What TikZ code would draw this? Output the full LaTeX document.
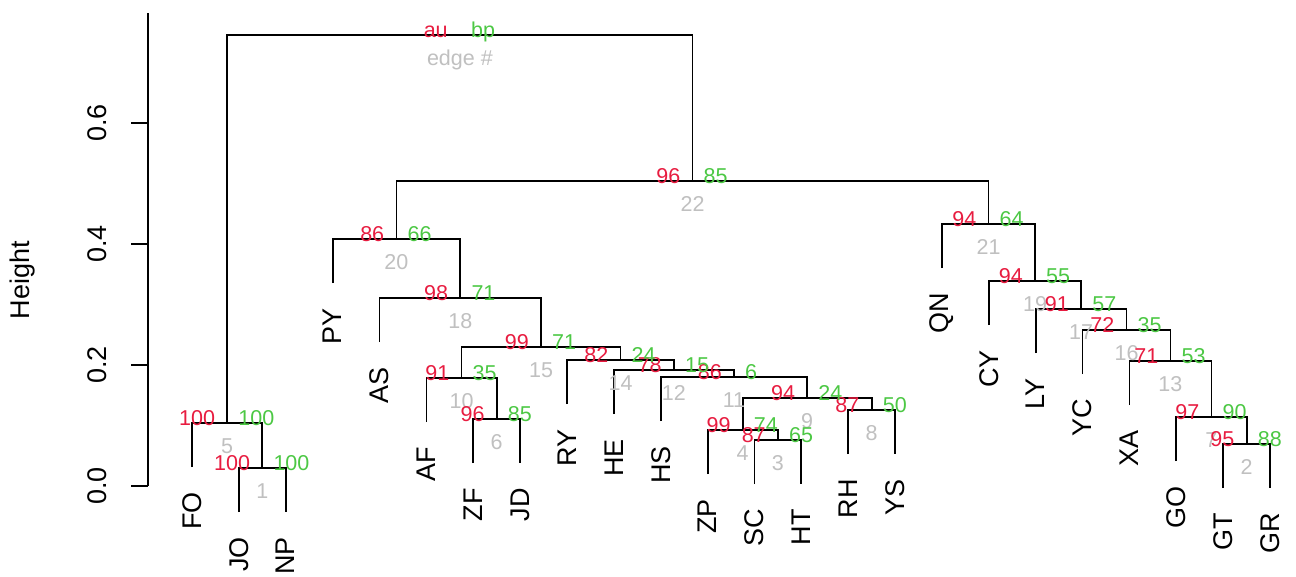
\documentclass[tikz,border=0pt]{standalone}
\usepackage{fontspec}
\setmainfont{Liberation Sans}
\usetikzlibrary{calc}
\definecolor{aured}{RGB}{232,28,64}
\definecolor{bpgreen}{RGB}{76,200,68}
\definecolor{edgegray}{RGB}{192,192,192}
\tikzset{
  tree/.style={line width=1.8pt, black},
  leaflab/.style={rotate=90, anchor=east, inner sep=0pt, font=\fontsize{27}{27}\selectfont, text=black},
  ticklab/.style={rotate=90, anchor=center, inner sep=0pt, font=\fontsize{27}{27}\selectfont, text=black},
  aulab/.style={anchor=base east, inner sep=0pt, text=aured, font=\fontsize{21.5}{21.5}\selectfont},
  bplab/.style={anchor=base west, inner sep=0pt, text=bpgreen, font=\fontsize{21.5}{21.5}\selectfont},
  edlab/.style={anchor=base, inner sep=0pt, text=edgegray, font=\fontsize{21.5}{21.5}\selectfont},
}
\begin{document}
\begin{tikzpicture}[x=1pt,y=-1pt]
\useasboundingbox (0,0) rectangle (1296,576);
\fill[white] (0,0) rectangle (1296,576);
% leaves (lower ends of leaf lines)
\foreach \n/\x/\y in {FO/192.0/467, JO/238.9/512, NP/285.7/512, PY/332.6/283,
  AS/379.5/342, AF/426.4/422, ZF/473.2/463, JD/520.1/463, RY/567.0/404,
  HE/613.8/414, HS/660.7/421, ZP/707.6/474, SC/754.4/484, HT/801.3/484,
  RH/848.2/454, YS/895.1/454, QN/941.9/268, CY/988.8/325, LY/1035.7/353,
  YC/1082.5/374, XA/1129.4/405, GO/1176.3/461, GT/1223.1/488, GR/1270.0/488}
  {\coordinate (\n) at (\x,\y);}
% internal nodes
\foreach \n/\x/\y in {e1/262.3/468, e5/227.2/423, e2/1246.6/444, e7/1211.4/417,
  e13/1170.4/361, e16/1126.5/330, e17/1081.1/309, e19/1035.0/281, e21/988.5/224,
  e3/777.9/440, e4/742.7/430, e8/871.6/410, e9/807.2/398, e11/734.0/377,
  e12/673.9/370, e14/620.5/360, e6/496.7/419, e10/461.5/378, e15/541.0/347,
  e18/460.3/298, e20/396.4/239, e22/692.5/181, root/459.9/35}
  {\coordinate (\n) at (\x,\y);}
% axis
\coordinate (axtop) at (148,13);
\coordinate (ax0) at (148,486);
\draw[tree] (axtop) -- (ax0);
\foreach \i/\v/\y in {0/0.0/486, 1/0.2/365, 2/0.4/244, 3/0.6/123}{
  \coordinate (tk\i) at (148,\y);
  \coordinate (tl\i) at (131,\y);
  \draw[tree] (tk\i) -- (tl\i);
  \node[ticklab] (tick\i) at (97,\y) {\v};
}
\node[ticklab] (ylab) at (23,280) {Height};
% dendrogram
\draw[tree] (JO) |- (e1) -| (NP);
\draw[tree] (FO) |- (e5) -| (e1);
\draw[tree] (GT) |- (e2) -| (GR);
\draw[tree] (GO) |- (e7) -| (e2);
\draw[tree] (XA) |- (e13) -| (e7);
\draw[tree] (YC) |- (e16) -| (e13);
\draw[tree] (LY) |- (e17) -| (e16);
\draw[tree] (CY) |- (e19) -| (e17);
\draw[tree] (QN) |- (e21) -| (e19);
\draw[tree] (SC) |- (e3) -| (HT);
\draw[tree] (ZP) |- (e4) -| (e3);
\draw[tree] (RH) |- (e8) -| (YS);
\draw[tree] (e4) |- (e9) -| (e8);
\draw[tree] (HS) |- (e11) -| (e9);
\draw[tree] (HE) |- (e12) -| (e11);
\draw[tree] (RY) |- (e14) -| (e12);
\draw[tree] (ZF) |- (e6) -| (JD);
\draw[tree] (AF) |- (e10) -| (e6);
\draw[tree] (e10) |- (e15) -| (e14);
\draw[tree] (AS) |- (e18) -| (e15);
\draw[tree] (PY) |- (e20) -| (e18);
\draw[tree] (e20) |- (e22) -| (e21);
\draw[tree] (e5) |- (root) -| (e22);
% leaf labels
\foreach \n in {FO,JO,NP,PY,AS,AF,ZF,JD,RY,HE,HS,ZP,SC,HT,RH,YS,QN,CY,LY,YC,XA,GO,GT,GR}
  {\node[leaflab] (l\n) at ($(\n)+(0,25)$) {\n};}
% edge numbers
\foreach \n/\e in {e1/1, e2/2, e3/3, e4/4, e5/5, e6/6, e7/7, e8/8, e9/9, e10/10,
  e11/11, e12/12, e13/13, e14/14, e15/15, e16/16, e17/17, e18/18, e19/19, e20/20,
  e21/21, e22/22}
  {\node[edlab] (ed\n) at ($(\n)+(0,30)$) {\e};}
\node[edlab] (edroot) at ($(root)+(0,30)$) {edge \#};
% au / bp values
\foreach \n/\a/\b in {e1/100/100, e2/95/88, e3/87/65, e4/99/74, e5/100/100,
  e6/96/85, e7/97/90, e8/87/50, e9/94/24, e10/91/35, e11/86/6, e12/78/15,
  e13/71/53, e14/82/24, e15/99/71, e16/72/35, e17/91/57, e18/98/71, e19/94/55,
  e20/86/66, e21/94/64, e22/96/85, root/au/bp}
  {\node[aulab] (au\n) at ($(\n)+(-12,2)$) {\a};
   \node[bplab] (bp\n) at ($(\n)+(11,2)$) {\b};}
\end{tikzpicture}
\end{document}
